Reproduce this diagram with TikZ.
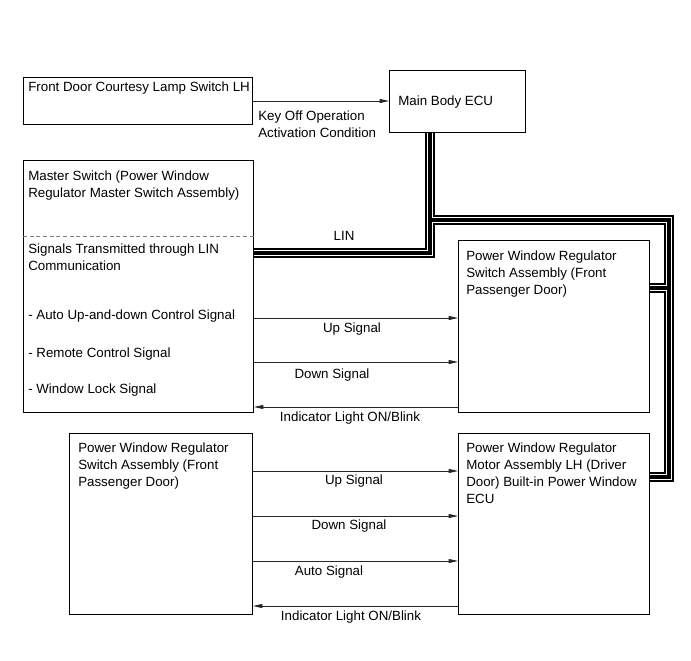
\documentclass[tikz,border=0pt]{standalone}
\usepackage{fontspec}
\setmainfont{Liberation Sans}
\usetikzlibrary{arrows.meta,calc}
\tikzset{
  blk/.style 2 args={draw=black,line width=0.75pt,minimum width=#1*0.75pt,minimum height=#2*0.75pt,anchor=north west,inner sep=0pt}, % unit box
  txt/.style={anchor=north west,inner sep=0pt,align=left,font=\fontsize{10pt}{12.75pt}\selectfont},
  lbl/.style={inner sep=0pt,font=\fontsize{10pt}{12.75pt}\selectfont},
  sig/.style={-{Triangle[length=7pt,width=3pt]},black!85,line width=0.6pt},
  busout/.style={line width=7pt,black,line join=miter},
  busmid/.style={line width=5.2pt,white,line join=miter},
  busin/.style={line width=2.6pt,black,line join=miter},
  divider/.style={gray,dash pattern=on 3pt off 2pt,line width=0.6pt},
}

\begin{document}
\begin{tikzpicture}[x=0.75pt,y=-0.75pt]
  \useasboundingbox (0,0) rectangle (691,660);
  % units and ECUs
  \node[blk={229}{47}] (lamp) at (23,77) {};
  \node[blk={136}{62}] (ecu) at (389,70) {};
  \node[blk={230}{252}] (master) at (23,160) {};
  \node[blk={191}{172}] (switchR) at (458,240) {};
  \node[blk={183}{181}] (switchL) at (69,433) {};
  \node[blk={191}{181}] (motor) at (458,433) {};

  \node[txt] (lampT) at (28,82) {Front Door Courtesy Lamp Switch LH};
  \node[txt] (ecuT) at (398,96) {Main Body ECU};
  \node[txt] (keyT) at (258,111) {Key Off Operation\\Activation Condition};
  \node[txt] (masterT) at (28,171) {Master Switch (Power Window\\Regulator Master Switch Assembly)};
  \draw[divider] (master.west |- 0,236) -- (master.east |- 0,236);
  \node[txt] (linT) at (28,244) {Signals Transmitted through LIN\\Communication};
  \node[txt] (autoT) at (28,310) {- Auto Up-and-down Control Signal};
  \node[txt] (remoteT) at (28,348) {- Remote Control Signal};
  \node[txt] (lockT) at (28,384) {- Window Lock Signal};
  \node[txt] (switchRT) at (466,251) {Power Window Regulator\\Switch Assembly (Front\\Passenger Door)};
  \node[txt] (switchLT) at (78,443) {Power Window Regulator\\Switch Assembly (Front\\Passenger Door)};
  \node[txt] (motorT) at (466,443) {Power Window Regulator\\Motor Assembly LH (Driver\\Door) Built-in Power Window\\ECU};

  % LIN bus
  \coordinate (linA) at (430,253);
  \coordinate (linB) at (669,220);
  \foreach \s in {busout,busmid,busin}{
    \draw[\s] (ecu.south -| linA) |- (master.east |- linA);
    \draw[\s] (ecu.south -| linA) |- (linB) |- (motor.east |- 0,477);
    \draw[\s] (linB |- 0,288) -- (switchR.east |- 0,288);
  }
  \node[lbl] (linL) at (344,236) {LIN};

  % signals
  \draw[sig] (lamp.east) -- (ecu.west |- lamp.east);
  \foreach \y in {318,362}
    \draw[sig] (master.east |- 0,\y) -- (switchR.west |- 0,\y);
  \draw[sig] (switchR.west |- 0,407) -- (master.east |- 0,407);
  \foreach \y in {471,516,561}
    \draw[sig] (switchL.east |- 0,\y) -- (motor.west |- 0,\y);
  \draw[sig] (motor.west |- 0,606) -- (switchL.east |- 0,606);

  \node[lbl] (upA) at (352,329) {Up Signal};
  \node[lbl] (downA) at (332,375) {Down Signal};
  \node[lbl] (indA) at (350,418) {Indicator Light ON/Blink};
  \node[lbl] (upB) at (354,481) {Up Signal};
  \node[lbl] (downB) at (349,526) {Down Signal};
  \node[lbl] (autoB) at (329,572) {Auto Signal};
  \node[lbl] (indB) at (351,617) {Indicator Light ON/Blink};
\end{tikzpicture}
\end{document}
